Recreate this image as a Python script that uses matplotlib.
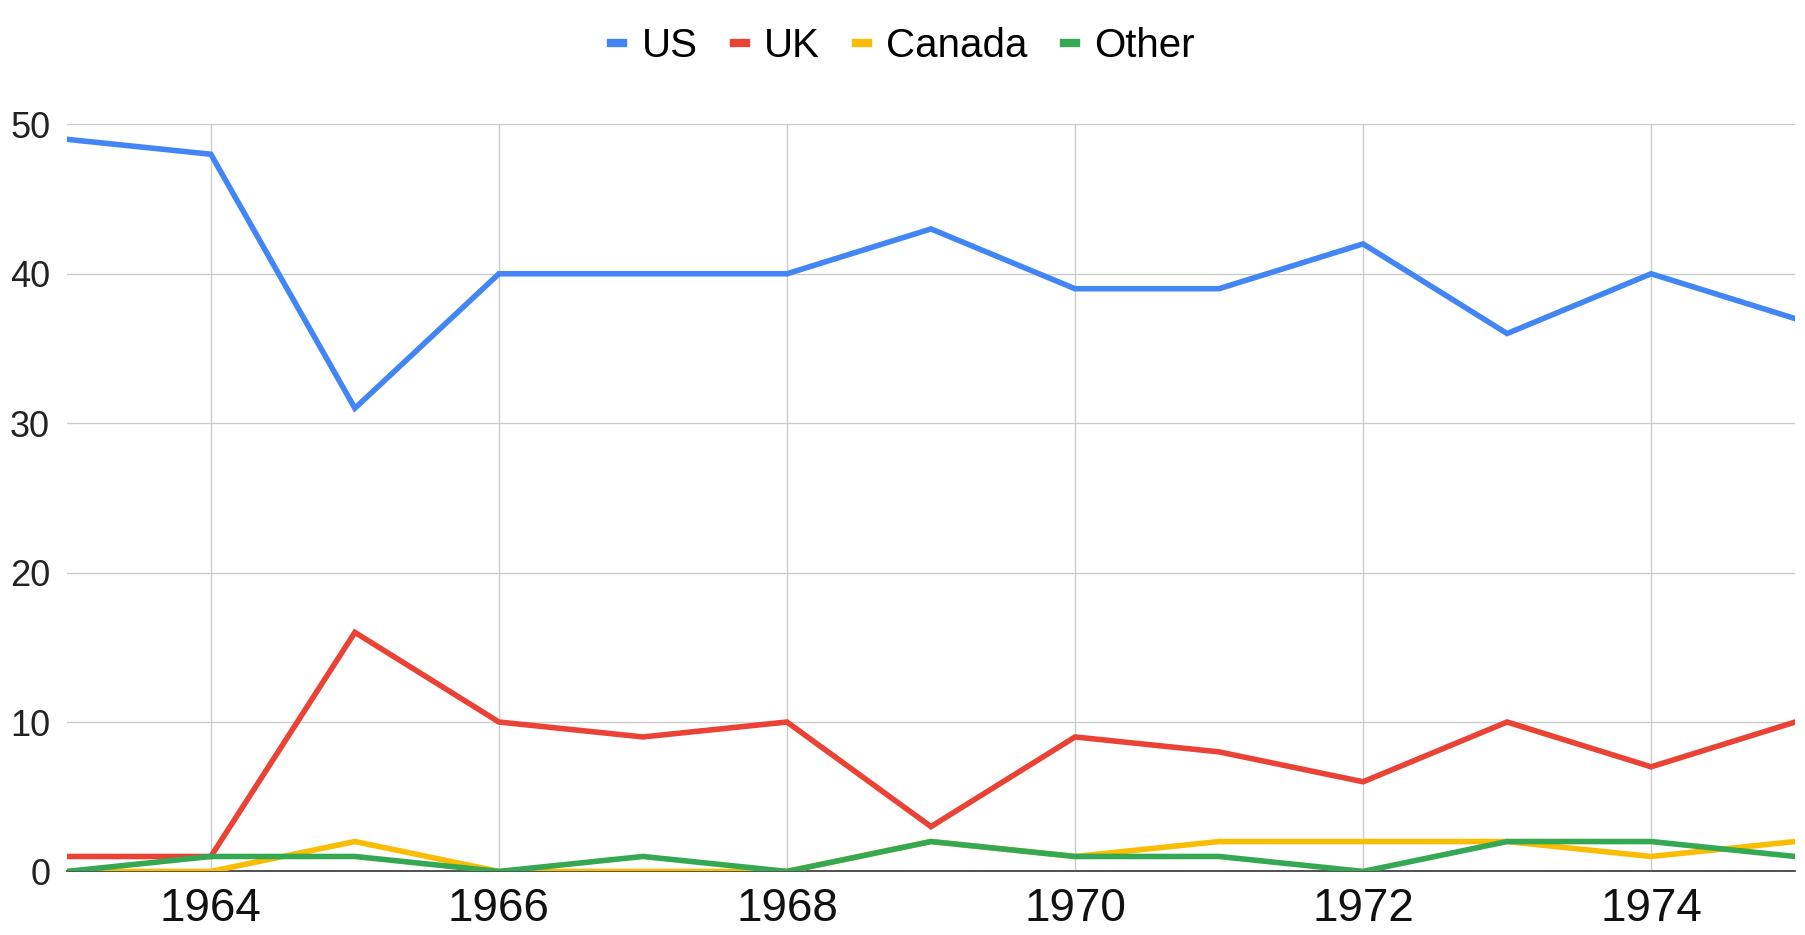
import matplotlib
matplotlib.use('Agg')
import matplotlib.pyplot as plt

years = list(range(1963, 1976))
us = [49, 48, 31, 40, 40, 40, 43, 39, 39, 42, 36, 40, 37]
uk = [1, 1, 16, 10, 9, 10, 3, 9, 8, 6, 10, 7, 10]
canada = [0, 0, 2, 0, 0, 0, 2, 1, 2, 2, 2, 1, 2]
other = [0, 1, 1, 0, 1, 0, 2, 1, 1, 0, 2, 2, 1]

series = [us, uk, canada, other]
labels = ['US', 'UK', 'Canada', 'Other']
colors = ['#4285F4', '#EA4335', '#FBBC04', '#34A853']

plt.rcParams['font.family'] = ['Liberation Sans', 'DejaVu Sans']

fig = plt.figure(figsize=(18.06, 9.35), dpi=100)
ax = fig.add_axes([0.037, 0.068, 0.957, 0.799])

for i in range(4):
    ax.plot(years, series[i], label=labels[i], color=colors[i], lw=4,
            solid_joinstyle='miter', zorder=3 + (i == 3))

ax.set_xlim(1963, 1975)
ax.set_ylim(0, 50)
ax.set_xticks(range(1964, 1976, 2))
ax.set_yticks(range(0, 51, 10))
ax.grid(True, color='#cccccc', lw=1)
ax.set_axisbelow(True)
for s in ['top', 'right', 'left']:
    ax.spines[s].set_visible(False)
ax.spines['bottom'].set_color('#333333')
ax.spines['bottom'].set_linewidth(1.2)
ax.spines['bottom'].set_zorder(2)
ax.tick_params(axis='x', length=0, labelsize=33, pad=11, labelcolor='#111111')
ax.tick_params(axis='y', length=0, labelsize=26, pad=12, labelcolor='#222222')

leg = fig.legend(loc='upper center', bbox_to_anchor=(0.5, 1.01), ncol=4,
                 frameon=False, fontsize=29, handlelength=0.3,
                 handletextpad=0.45, columnspacing=0.9)
for h in leg.get_lines():
    h.set_linewidth(6)

fig.savefig('out.png', dpi=100)
